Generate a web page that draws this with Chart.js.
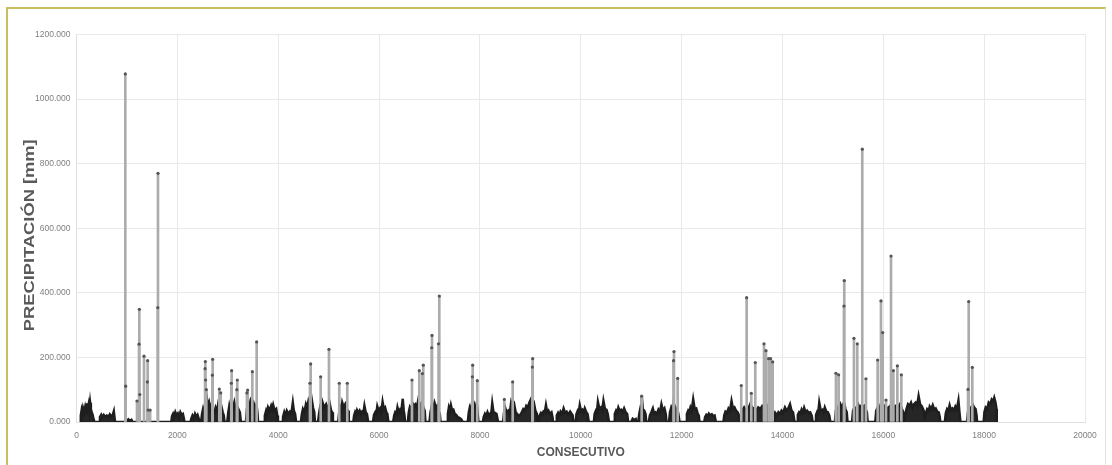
<!DOCTYPE html>
<html>
<head>
<meta charset="utf-8">
<script src="https://cdn.jsdelivr.net/npm/chart.js@4.4.1/dist/chart.umd.min.js"></script>
<style>
  html, body { margin: 0; padding: 0; background: #ffffff; overflow: hidden; }
  #wrap { position: relative; width: 1112px; height: 465px; }
  #frame { position: absolute; left: 6px; top: 7px; width: 1097px; height: 470px;
           border-left: 2px solid #c9bd5e; border-top: 2px solid #c9bd5e; border-right: 1px solid #e2e2e2;
           pointer-events: none; }
  canvas { position: absolute; left: 0; top: 0; }
</style>
</head>
<body>
<div id="wrap">
  <canvas id="c" width="1112" height="465"></canvas>
  <div id="frame"></div>
</div>
<script>
// ---- Data ----
// Daily rainfall peaks (consecutive day index, mm)
const spikeX = [968, 975, 1200, 1240, 1246, 1255, 1339, 1405, 1411, 1420, 1460, 1612, 1616,
  2550, 2555, 2560, 2575, 2695, 2700, 2832, 2860, 3070, 3077, 3180, 3189, 3380, 3394, 3487, 3573,
  4630, 4644, 4842, 5007, 5211, 5370, 6653, 6798, 6860, 6877, 7045, 7050, 7180, 7195,
  7850, 7857, 7948, 8484, 8650, 9040, 9047, 11208, 11840, 11849, 11922,
  13183, 13290, 13382, 13461, 13634, 13673, 13726, 13766, 13806,
  15061, 15114, 15220, 15226, 15418, 15484, 15583, 15656, 15888, 15954, 15988, 16054, 16153, 16200, 16279, 16358,
  17680, 17694, 17765];
const spikeY = [1078, 111, 65, 241, 349, 85, 204, 124, 190, 37, 37, 354, 770,
  165, 187, 130, 100, 145, 194, 102, 90, 120, 159, 100, 130, 90, 99, 156, 248,
  120, 180, 140, 225, 120, 120, 130, 159, 150, 176, 230, 268, 242, 390,
  140, 176, 128, 70, 124, 170, 196, 80, 190, 218, 135,
  113, 385, 89, 184, 242, 221, 196, 196, 186,
  151, 146, 359, 438, 259, 242, 845, 134, 192, 375, 277, 68, 514, 159, 174, 146,
  101, 373, 169];

// Envelope of the dense low-rainfall clusters (consecutive day index, mm)
const baseX = [
  70, 85, 100, 115, 130, 150, 170, 190, 205, 220, 240, 255, 270, 285, 300, 320, 335, 345,
  450, 465, 490, 510, 540, 570, 600, 630, 660, 690, 715, 740, 755, 765,
  1000, 1030, 1060, 1090, 1110,
  1880, 1895, 1915, 1935, 1960, 1985, 2010, 2035, 2060, 2085, 2110, 2130, 2140,
  2260, 2280, 2300, 2325, 2350, 2375, 2400, 2425, 2440,
  2470, 2490, 2510, 2530, 2550, 2570, 2590, 2610, 2630, 2650, 2680, 2710, 2740, 2760, 2790, 2810, 2840, 2870, 2900, 2920, 2935,
  2990, 3010, 3030, 3050, 3080, 3100, 3130, 3160, 3180, 3210, 3240, 3260,
  3360, 3380, 3400, 3420, 3450, 3480, 3510, 3540, 3570, 3590, 3600,
  3720, 3735, 3760, 3780, 3800, 3830, 3860, 3880, 3900, 3930, 3960, 3980, 3995,
  4080, 4095, 4120, 4140, 4170, 4200, 4230, 4260, 4290, 4310, 4335, 4355,
  4450, 4470, 4490, 4520, 4550, 4575, 4600, 4630, 4660, 4690, 4715, 4730,
  4790, 4810, 4830, 4860, 4880, 4910, 4950, 4980, 5020, 5050, 5070, 5085,
  5190, 5210, 5230, 5250, 5270, 5300, 5330, 5360, 5385, 5400,
  5490, 5505, 5525, 5545, 5565, 5590, 5615, 5640, 5665, 5690, 5710, 5735, 5760, 5785,
  5880, 5900, 5925, 5945, 5965, 5990, 6020, 6045, 6070, 6095, 6120, 6145, 6165, 6185,
  6280, 6300, 6320, 6345, 6365, 6390, 6415, 6440, 6470, 6490, 6505, 6515,
  6570, 6590, 6610, 6640, 6660, 6690, 6720, 6750, 6780, 6810, 6850, 6880, 6905, 6920,
  7000, 7020, 7045, 7070, 7100, 7130, 7155, 7180, 7205, 7220,
  7350, 7365, 7385, 7405, 7425, 7450, 7475, 7500, 7530, 7560, 7600, 7630, 7660,
  7760, 7780, 7800, 7825, 7845, 7870, 7895, 7920, 7945, 7970,
  8060, 8075, 8100, 8125, 8150, 8175, 8200, 8220, 8245, 8270, 8300, 8330, 8360,
  8460, 8480, 8500, 8530, 8560, 8590, 8620, 8650, 8680, 8710, 8740, 8770, 8800, 8830, 8860, 8890, 8920, 8950, 8980, 9010, 9040, 9070, 9100, 9130, 9150,
  9170, 9185, 9210, 9235, 9260, 9285, 9310, 9335, 9360, 9390, 9420, 9440, 9450,
  9510, 9525, 9550, 9575, 9600, 9630, 9660, 9690, 9720, 9750, 9790, 9820, 9840, 9855,
  9900, 9915, 9940, 9960, 9980, 10005, 10030, 10055, 10080, 10110, 10135, 10160,
  10260, 10275, 10300, 10320, 10340, 10370, 10400, 10425, 10450, 10480, 10510, 10535, 10560,
  10660, 10675, 10700, 10720, 10745, 10770, 10800, 10830, 10860, 10890, 10920, 10940,
  11000, 11030, 11060, 11090, 11100,
  11140, 11160, 11180, 11200, 11210, 11230, 11260, 11285, 11300,
  11350, 11370, 11400, 11430, 11455, 11480, 11510, 11540, 11570, 11600, 11630, 11660, 11685, 11700,
  11750, 11770, 11795, 11820, 11840, 11870, 11900, 11930, 11960,
  12090, 12105, 12130, 12150, 12175, 12200, 12230, 12260, 12290, 12320, 12340, 12355,
  12450, 12465, 12490, 12515, 12540, 12570, 12600, 12630, 12655, 12680,
  12830, 12845, 12870, 12900, 12930, 12960, 12990, 13020, 13050, 13080, 13110, 13140, 13160,
  13180, 13200, 13240, 13280, 13320, 13360, 13400, 13440, 13480, 13520, 13560, 13600, 13640, 13680, 13720, 13760, 13800, 13830, 13850,
  13870, 13890, 13920, 13950, 13980, 14010, 14050, 14080, 14110, 14150, 14180, 14210, 14240,
  14290, 14305, 14330, 14355, 14380, 14405, 14430, 14460, 14490, 14520, 14550, 14580, 14600,
  14650, 14665, 14690, 14710, 14730, 14760, 14790, 14815, 14840, 14870, 14900, 14930, 14950,
  15040, 15060, 15090, 15120, 15150, 15180, 15220, 15250, 15275, 15290,
  15380, 15400, 15430, 15460, 15500, 15530, 15560, 15590, 15620, 15650, 15675, 15690,
  15840, 15860, 15890, 15920, 15950, 15985, 16020, 16060, 16100, 16140, 16180, 16215, 16250, 16290, 16330, 16370, 16400, 16420,
  16440, 16460, 16490, 16520, 16550, 16580, 16610, 16640, 16670, 16700, 16730, 16760, 16790, 16810, 16820,
  16840, 16870, 16900, 16920, 16950, 16980, 17010, 17040, 17070, 17100, 17120, 17130,
  17220, 17240, 17265, 17290, 17315, 17340, 17370, 17400, 17430, 17460, 17490, 17510, 17530,
  17660, 17680, 17710, 17740, 17770, 17800, 17830, 17850, 17860,
  17990, 18005, 18030, 18060, 18090, 18120, 18150, 18180, 18200, 18225, 18245, 18250];
const baseY = [
  0, 20, 35, 22, 42, 30, 45, 28, 58, 40, 55, 35, 60, 40, 30, 22, 10, 0,
  0, 15, 22, 14, 22, 16, 20, 14, 24, 18, 20, 33, 12, 0,
  0, 8, 4, 7, 0,
  0, 18, 25, 15, 30, 20, 26, 14, 30, 22, 25, 10, 0,
  0, 12, 20, 12, 25, 16, 22, 10, 0,
  0, 25, 40, 30, 55, 45, 70, 50, 60, 40, 55, 35, 30, 45, 35, 55, 40, 50, 30, 20, 0,
  0, 30, 50, 35, 55, 40, 60, 35, 50, 40, 30, 0,
  0, 40, 60, 45, 65, 50, 60, 45, 55, 25, 0,
  0, 20, 35, 25, 45, 35, 50, 40, 53, 35, 40, 20, 0,
  0, 15, 30, 20, 35, 25, 32, 25, 60, 35, 25, 0,
  0, 25, 40, 30, 55, 45, 65, 50, 75, 45, 30, 0,
  0, 25, 45, 35, 60, 45, 55, 40, 58, 35, 30, 0,
  0, 30, 45, 35, 60, 45, 55, 40, 35, 0,
  0, 20, 30, 22, 36, 28, 35, 25, 32, 28, 50, 30, 25, 0,
  0, 22, 30, 25, 48, 35, 42, 30, 62, 40, 45, 30, 25, 0,
  0, 20, 30, 25, 45, 30, 38, 30, 72, 35, 20, 0,
  0, 30, 45, 35, 60, 50, 55, 45, 70, 50, 60, 45, 35, 0,
  0, 30, 50, 40, 60, 45, 50, 35, 25, 0,
  0, 25, 45, 35, 52, 35, 38, 25, 22, 15, 12, 8, 0,
  0, 30, 45, 35, 60, 45, 55, 40, 45, 0,
  0, 15, 25, 18, 30, 20, 25, 18, 58, 30, 28, 25, 0,
  0, 30, 45, 30, 35, 25, 60, 45, 55, 30, 25, 18, 22, 30, 40, 35, 50, 45, 60, 70, 55, 60, 35, 25, 0,
  0, 20, 28, 22, 32, 28, 52, 30, 35, 25, 30, 15, 0,
  0, 20, 28, 20, 32, 25, 42, 28, 32, 22, 32, 25, 20, 0,
  0, 25, 35, 30, 52, 35, 38, 28, 42, 30, 25, 0,
  0, 25, 35, 30, 62, 40, 45, 35, 65, 40, 38, 25, 0,
  0, 25, 35, 30, 45, 35, 38, 30, 42, 30, 25, 0,
  0, 10, 6, 9, 0,
  0, 25, 40, 30, 80, 40, 35, 25, 0,
  0, 20, 30, 42, 25, 30, 25, 38, 30, 55, 35, 42, 25, 0,
  0, 30, 45, 35, 60, 45, 40, 30, 0,
  0, 25, 35, 30, 45, 35, 70, 40, 42, 25, 20, 0,
  0, 15, 22, 18, 26, 20, 24, 18, 20, 0,
  0, 20, 32, 28, 42, 35, 65, 40, 45, 35, 30, 20, 0,
  0, 35, 45, 35, 40, 55, 45, 40, 35, 45, 40, 50, 45, 55, 45, 50, 40, 30, 10,
  25, 20, 30, 25, 35, 28, 45, 35, 40, 55, 35, 30, 0,
  0, 22, 30, 25, 38, 30, 44, 30, 35, 28, 30, 20, 0,
  0, 22, 32, 28, 60, 35, 38, 30, 45, 32, 30, 20, 0,
  0, 35, 45, 40, 55, 45, 60, 40, 30, 0,
  0, 35, 45, 40, 55, 45, 50, 45, 50, 40, 30, 0,
  0, 35, 45, 40, 55, 45, 50, 40, 45, 50, 60, 45, 50, 45, 55, 40, 30, 5,
  20, 40, 55, 50, 60, 45, 55, 60, 50, 80, 55, 50, 40, 30, 5,
  25, 40, 35, 48, 40, 52, 38, 42, 32, 30, 15, 0,
  0, 28, 40, 35, 52, 38, 42, 35, 48, 40, 66, 30, 0,
  0, 30, 45, 40, 55, 45, 40, 20, 0,
  0, 30, 45, 40, 60, 55, 70, 65, 75, 60, 40, 0];

// Axis tick values and titles
const xTickValues = [0, 2000, 4000, 6000, 8000, 10000, 12000, 14000, 16000, 18000, 20000];
const yTickValues = [0, 200, 400, 600, 800, 1000, 1200];
const xTitle = 'CONSECUTIVO';
const yTitle = 'PRECIPITACIÓN [mm]';

// ---- Build library datasets ----
const spikePts = spikeX.map((x, i) => ({ x: x, y: spikeY[i] }));
const basePts = baseX.map((x, i) => ({ x: x, y: baseY[i] }));

const FONT = "'Liberation Sans', Arial, sans-serif";

// y-axis title drawn slightly stretched along its length, as in the reference
const yTitlePlugin = {
  id: 'yTitlePlugin',
  afterDraw(chart) {
    const ctx = chart.ctx;
    const area = chart.chartArea;
    ctx.save();
    ctx.translate(30, (area.top + area.bottom) / 2 + 7);
    ctx.rotate(-Math.PI / 2);
    ctx.scale(1.22, 1);
    ctx.font = 'bold 15px ' + FONT;
    ctx.fillStyle = '#595959';
    ctx.textAlign = 'center';
    ctx.textBaseline = 'middle';
    ctx.fillText(yTitle, 0, 0);
    ctx.restore();
  }
};

new Chart(document.getElementById('c'), {
  type: 'scatter',
  data: {
    datasets: [
      {
        type: 'scatter',
        data: spikePts,
        pointRadius: 1.6,
        pointBackgroundColor: '#555555',
        pointBorderWidth: 0,
        showLine: false
      },
      {
        type: 'bar',
        data: spikePts,
        backgroundColor: '#acacac',
        borderWidth: 0,
        barThickness: 2,
        grouped: false
      },
      {
        type: 'line',
        data: basePts,
        borderColor: '#1e1e1e',
        backgroundColor: '#262626',
        borderWidth: 2.5,
        pointRadius: 0,
        fill: 'origin',
        tension: 0
      }
    ]
  },
  options: {
    responsive: false,
    animation: false,
    devicePixelRatio: 1,
    layout: { padding: { left: 0, right: 27, top: 34.5, bottom: 0 } },
    plugins: { legend: { display: false }, tooltip: { enabled: false } },
    scales: {
      x: {
        type: 'linear',
        min: 0, max: 20000,
        offset: false,
        afterBuildTicks: (s) => { s.ticks = xTickValues.map(v => ({ value: v })); },
        afterFit: (s) => { s.height = 43; },
        grid: { color: '#e9e9e9', lineWidth: 1, drawTicks: false, offset: false },
        border: { color: '#e0e0e0' },
        ticks: { color: '#808080', font: { family: FONT, size: 8.5 }, padding: 9,
                 maxRotation: 0, autoSkip: false, callback: (v) => String(v) },
        title: { display: true, text: xTitle, color: '#595959',
                 font: { family: FONT, size: 12, weight: 'bold' }, padding: { top: 0, bottom: 4.8 } }
      },
      y: {
        type: 'linear',
        min: 0, max: 1200,
        afterBuildTicks: (s) => { s.ticks = yTickValues.map(v => ({ value: v })); },
        afterFit: (s) => { s.width = 76.5; },
        grid: { color: '#e9e9e9', lineWidth: 1, drawTicks: false },
        border: { color: '#e0e0e0' },
        ticks: { color: '#808080', font: { family: FONT, size: 8.5 }, padding: 6,
                 callback: (v) => Number(v).toFixed(3) },
        title: { display: false, text: yTitle }
      }
    }
  },
  plugins: [yTitlePlugin]
});
</script>
</body>
</html>
